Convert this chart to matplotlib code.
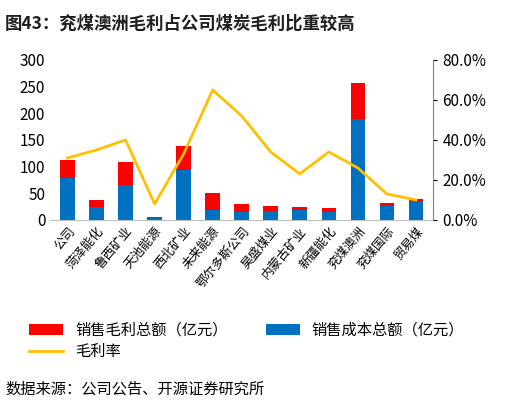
import matplotlib
matplotlib.use("Agg")
import matplotlib.pyplot as plt
from matplotlib.ticker import FuncFormatter
import numpy as np

plt.rcParams['font.family'] = ['Noto Sans CJK SC', 'DejaVu Sans']

categories = ["公司", "菏泽能化", "鲁西矿业", "天池能源", "西北矿业", "未来能源", "鄂尔多斯公司",
              "昊盛煤业", "内蒙古矿业", "新疆能化", "兖煤澳洲", "兖煤国际", "贸易煤"]
cost = [78, 25, 65, 3, 93, 18, 14, 17, 19, 15, 190, 27, 36]
total = [112, 38, 108, 5, 138, 51, 29, 27, 25, 22, 257, 31, 40]
margin_rate = [31, 35, 40, 8, 33, 65, 52, 34, 23, 34, 26, 13, 10]
gross = [t - c for t, c in zip(total, cost)]

fig = plt.figure(figsize=(5.22, 4.05), dpi=100)
ax = fig.add_axes([0.096, 0.457, 0.734, 0.395])
x = np.arange(len(categories))
ax.bar(x, cost, width=0.5, color="#0070C0", label="销售成本总额（亿元）")
ax.bar(x, gross, width=0.5, bottom=cost, color="#FF0000", label="销售毛利总额（亿元）")
ax.set_ylim(0, 300)
ax.set_yticks(range(0, 301, 50))
ax.set_xlim(-0.6, len(categories) - 0.4)
ax.set_xticks(x)
ax.set_xticklabels(categories, rotation=50, ha="right", rotation_mode="anchor", fontsize=9)
ax.tick_params(axis='y', labelsize=11, length=0)
ax.tick_params(axis='x', length=0)
for s in ["top", "right", "left"]:
    ax.spines[s].set_visible(False)
ax.spines["bottom"].set_color("#BFBFBF")

ax2 = ax.twinx()
ax2.plot(x, margin_rate, color="#FFC000", lw=2, label="毛利率")
ax2.set_ylim(0, 80)
ax2.set_yticks(range(0, 81, 20))
ax2.yaxis.set_major_formatter(FuncFormatter(lambda v, p: f"{v:.1f}%"))
ax2.tick_params(axis='y', labelsize=11, length=3)
for s in ["top", "left", "bottom"]:
    ax2.spines[s].set_visible(False)
ax2.spines["right"].set_color("#808080")

h1, l1 = ax.get_legend_handles_labels()
h2, l2 = ax2.get_legend_handles_labels()
handles = [h1[1], h2[0], h1[0]]
labels = [l1[1], l2[0], l1[0]]
fig.legend(handles, labels, loc="upper left", bbox_to_anchor=(0.03, 0.24), ncol=2,
           frameon=False, fontsize=11, handlelength=2.2, columnspacing=2.5, labelspacing=0.3)

fig.text(0.01, 0.965, "图43：兖煤澳洲毛利占公司煤炭毛利比重较高", fontsize=12.5, fontweight="bold",
         color="#1F1F1F", va="top")
fig.text(0.01, 0.04, "数据来源：公司公告、开源证券研究所", fontsize=11, va="center")
fig.savefig("out.png", dpi=100)
